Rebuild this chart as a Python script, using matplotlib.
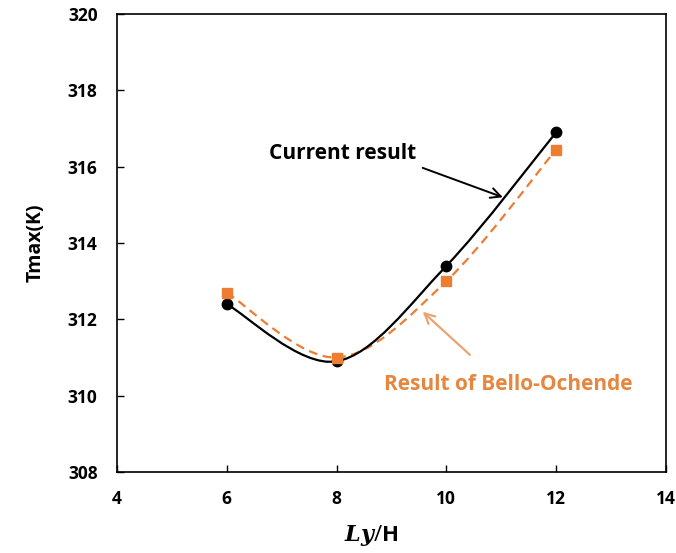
import numpy as np
import matplotlib
matplotlib.use("Agg")
import matplotlib.pyplot as plt
from matplotlib.path import Path
from matplotlib.patches import PathPatch

# data
ly_h = [6, 8, 10, 12]
current = [312.4, 310.9, 313.4, 316.9]
bello = [312.7, 311.0, 313.0, 316.45]

black = "black"
orange = "#ED7D31"
orange_txt = "#E5873F"
orange_arrow = "#E9A472"

plt.rcParams["font.family"] = ["Open Sans", "DejaVu Sans"]
plt.rcParams["mathtext.fontset"] = "custom"
plt.rcParams["mathtext.rm"] = "Open Sans"
plt.rcParams["mathtext.bf"] = "Open Sans:bold"
plt.rcParams["mathtext.bfit"] = "DejaVu Serif:italic:bold"


def smooth_path(x, y):
    # excel-like smoothed line: catmull-rom as cubic bezier segments
    x = np.asarray(x, float)
    y = np.asarray(y, float)
    n = len(x)
    verts = [(x[0], y[0])]
    codes = [Path.MOVETO]
    for i in range(n - 1):
        p0 = i - 1 if i > 0 else i
        p3 = i + 2 if i + 2 < n else i + 1
        c1 = (x[i] + (x[i + 1] - x[p0]) / 6, y[i] + (y[i + 1] - y[p0]) / 6)
        c2 = (x[i + 1] - (x[p3] - x[i]) / 6, y[i + 1] - (y[p3] - y[i]) / 6)
        verts += [c1, c2, (x[i + 1], y[i + 1])]
        codes += [Path.CURVE4] * 3
    return Path(verts, codes)


fig = plt.figure(figsize=(6.76, 5.53), dpi=100)
ax = fig.add_axes([0.173, 0.1465, 0.812, 0.828])

# orange dashed curve + squares
ax.add_patch(PathPatch(smooth_path(ly_h, bello), fill=False, edgecolor=orange,
                       lw=1.6, linestyle=(0, (4, 2.5)), zorder=2))
ax.plot(ly_h, bello, ls="none", marker="s", ms=7.5, color=orange, zorder=4)

# black curve + circles
ax.add_patch(PathPatch(smooth_path(ly_h, current), fill=False, edgecolor=black,
                       lw=1.6, zorder=3))
ax.plot(ly_h, current, ls="none", marker="o", ms=7.5, color=black, zorder=3)

ax.set_xlim(4, 14)
ax.set_ylim(308, 320)
ax.set_xticks([4, 6, 8, 10, 12, 14])
ax.set_yticks([308, 310, 312, 314, 316, 318, 320])
ax.tick_params(direction="in", length=5, width=1, labelsize=12.5,
               top=False, right=False)
ax.tick_params(axis="y", pad=14)
ax.tick_params(axis="x", pad=13)
for lab in ax.get_xticklabels() + ax.get_yticklabels():
    lab.set_fontweight("bold")
for s in ax.spines.values():
    s.set_linewidth(1.2)

ax.set_ylabel("Tmax(K)", fontsize=14, fontweight="bold", labelpad=16)
ax.set_xlabel(r"$\mathbfit{Ly}\mathrm{/}\mathbf{H}$", fontsize=16)
ax.xaxis.set_label_coords(0.463, -0.112)

# annotations
ax.text(8.12, 316.35, "Current result", fontsize=15, fontweight="bold",
        color=black, ha="center", va="center")
ax.annotate("", xy=(11.03, 315.2), xytext=(9.57, 315.97),
            arrowprops=dict(arrowstyle="->", color=black, lw=1.4,
                            mutation_scale=18, shrinkA=0, shrinkB=0))
ax.text(11.12, 310.28, "Result of Bello-Ochende", fontsize=15, fontweight="bold",
        color=orange_txt, ha="center", va="center")
ax.annotate("", xy=(9.57, 312.2), xytext=(10.43, 311.07),
            arrowprops=dict(arrowstyle="->", color=orange_arrow, lw=1.6,
                            mutation_scale=18, shrinkA=0, shrinkB=0))

fig.savefig("out.png", dpi=100)
